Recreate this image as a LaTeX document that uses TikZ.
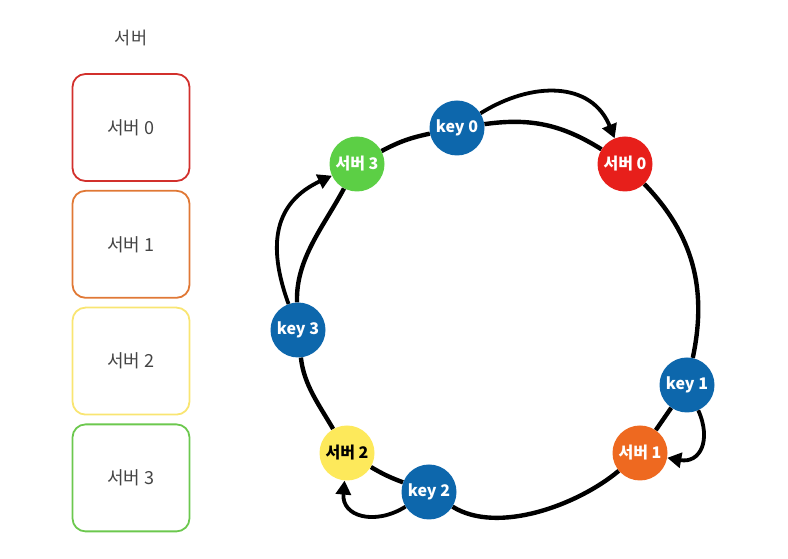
\documentclass[tikz,border=0pt]{standalone}
\usepackage{fontspec}
\setmainfont{Noto Sans CJK KR}
\usepackage{tikz}
\usetikzlibrary{shapes,arrows.meta,positioning,backgrounds}
\definecolor{keyblue}{HTML}{0D67AC}
\definecolor{red0}{HTML}{E71F1B}
\definecolor{orange1}{HTML}{EE6920}
\definecolor{yellow2}{HTML}{FDE95B}
\definecolor{green3}{HTML}{5CCF45}
\definecolor{boxred}{HTML}{D2302C}
\definecolor{boxorange}{HTML}{E07835}
\definecolor{boxyellow}{HTML}{F9E572}
\definecolor{boxgreen}{HTML}{6CC84E}
\definecolor{txtgray}{HTML}{444444}
\tikzstyle{srvbox} = [rectangle, draw, line width=1.8pt, rounded corners=13pt, minimum width=117pt, minimum height=107pt, text=txtgray, font=\fontsize{18}{20}\selectfont, node distance=116.8pt]
\tikzstyle{title} = [text=txtgray, font=\fontsize{17.5}{20}\selectfont, node distance=89.5pt]
\tikzstyle{hash} = [circle, minimum size=55pt, inner sep=0pt, text=white, font=\bfseries\fontsize{16}{18}\selectfont]
\tikzstyle{ring} = [draw, line width=4.4pt]
\tikzstyle{line} = [draw, line width=3.8pt, -{Triangle[length=14pt,width=15pt]}]

\begin{document}
\begin{tikzpicture}[x=1pt, y=1pt, node distance = 1cm, auto]
					\useasboundingbox (0,0) rectangle (788,559);
					\node [srvbox, draw=boxred] (box0) at (131,431.5) {서버 0};
					\node [srvbox, draw=boxorange, below of=box0] (box1) {서버 1};
					\node [srvbox, draw=boxyellow, below of=box1] (box2) {서버 2};
					\node [srvbox, draw=boxgreen, below of=box2] (box3) {서버 3};
					\node [title, above of=box0] (head) {서버};
					\node [hash, fill=keyblue] (key0) at (457,431) {key 0};
					\node [hash, fill=red0] (srv0) at (625,395) {서버 0};
					\node [hash, fill=keyblue] (key1) at (687,174) {key 1};
					\node [hash, fill=orange1] (srv1) at (640,106) {서버 1};
					\node [hash, fill=keyblue] (key2) at (429,67) {key 2};
					\node [hash, fill=yellow2, text=black] (srv2) at (347,106) {서버 2};
					\node [hash, fill=keyblue] (key3) at (298,229) {key 3};
					\node [hash, fill=green3] (srv3) at (357,395) {서버 3};
					\begin{pgfonlayer}{background}
					\path [ring] (srv3) to[bend left=8] (key0);
					\path [ring] (key0) to[out=8,in=148] (srv0);
					\path [ring] (srv0) to[out=-46,in=78] (key1);
					\path [ring] (key1) -- (srv1);
					\path [ring] (srv1) to[out=-140,in=-32,looseness=0.8] (key2);
					\path [ring] (key2) to[bend left=5] (srv2);
					\path [ring] (srv2) to[out=120,in=-84,looseness=0.9] (key3);
					\path [ring] (key3) to[out=92,in=-118,looseness=0.9] (srv3);
					\end{pgfonlayer}
					\path [line] (key0) to[out=32,in=112,looseness=1.15] (srv0);
					\path [line] (key1) to[out=-66,in=-10,looseness=1.5] (srv1);
					\path [line] (key2) to[out=-148,in=-95,looseness=1.4] (srv2);
					\path [line] (key3) to[out=110,in=205,looseness=1.2] (srv3);
				\end{tikzpicture}
\end{document}
